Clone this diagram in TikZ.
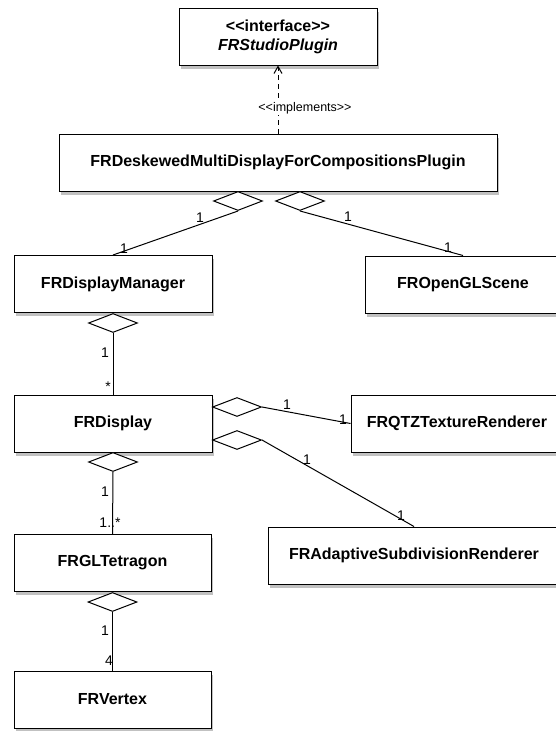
\documentclass[tikz,border=0pt]{standalone}
\usepackage{fontspec}
\setmainfont{Liberation Sans}
\usetikzlibrary{shapes.geometric,shadows,arrows.meta}

\tikzset{
	cls/.style={draw=black, fill=white, line width=1pt, minimum height=57pt, inner sep=0pt,
		font=\fontsize{16}{19}\selectfont\bfseries, align=center,
		drop shadow={shadow xshift=2pt, shadow yshift=-3.5pt, fill=black!60, opacity=0.4}},
	agg/.style={draw=black, fill=white, line width=1pt, shape=diamond, inner sep=0pt,
		minimum width=49pt, minimum height=19pt},
	mult/.style={inner sep=0pt, font=\fontsize{14}{16}\selectfont},
	link/.style={draw=black, line width=1pt}
}

\begin{document}
\begin{tikzpicture}[x=1pt, y=-1pt]
	\useasboundingbox[fill=white] (0,0) rectangle (556,731);
	% classes
	\node[cls, minimum width=198pt] (iface) at (278,36.5) {<{}<interface>{}>\\\textit{FRStudioPlugin}};
	\node[cls, minimum width=438pt] (desk) at (278,162.5) {FRDeskewedMultiDisplayForCompositionsPlugin};
	\node[cls, minimum width=198pt] (dm) at (113,284) {FRDisplayManager};
	\node[cls, minimum width=196pt] (ogl) at (463,284.5) {FROpenGLScene};
	\node[cls, minimum width=198pt] (disp) at (113,423.5) {FRDisplay};
	\node[cls, minimum width=212pt] (qtz) at (457,423.5) {FRQTZTextureRenderer};
	\node[cls, minimum width=292pt] (adapt) at (414,555.5) {FRAdaptiveSubdivisionRenderer};
	\node[cls, minimum width=197pt] (glt) at (112.5,563) {FRGLTetragon};
	\node[cls, minimum width=197pt] (vtx) at (112.5,699.5) {FRVertex};
	% aggregation diamonds
	\node[agg, anchor=north] (aggDeskDm) at (238,191) {};
	\node[agg, anchor=north] (aggDeskOgl) at (300,191) {};
	\node[agg, anchor=north] (aggDm) at (113,313) {};
	\node[agg, anchor=west] (aggDispQtz) at (212,407) {};
	\node[agg, anchor=west] (aggDispAdapt) at (212,440) {};
	\node[agg, anchor=north] (aggDisp) at (113,452) {};
	\node[agg, anchor=north] (aggGlt) at (112.5,592) {};
	% connectors
	\draw[link, dash pattern=on 5pt off 4pt, -{Straight Barb[length=7pt, width=8pt]}] (desk.north) -- (iface.south);
	\node[font=\fontsize{12.5}{14}\selectfont, fill=white, inner sep=1pt] (impl) at (305,108) {<{}<implements>{}>};
	\draw[link] (aggDeskDm.south) -- (dm.north);
	\draw[link] (aggDeskOgl.south) -- (ogl.north);
	\draw[link] (aggDm.south) -- (disp.north);
	\draw[link] (aggDispQtz.east) -- (qtz.west);
	\draw[link] (aggDispAdapt.east) -- (adapt.north);
	\draw[link] (aggDisp.south) -- (glt.north);
	\draw[link] (aggGlt.south) -- (vtx.north);
	% multiplicities
	\node[mult] (mDeskDmA) at (200,218) {1};
	\node[mult] (mDeskDmB) at (124,249) {1};
	\node[mult] (mDeskOglA) at (348,217) {1};
	\node[mult] (mDeskOglB) at (448,248) {1};
	\node[mult] (mDmA) at (105,353) {1};
	\node[mult] (mDmB) at (108,387) {*};
	\node[mult] (mQtzA) at (287,405) {1};
	\node[mult] (mQtzB) at (343,420) {1};
	\node[mult] (mAdaptA) at (307,460) {1};
	\node[mult] (mAdaptB) at (401,516) {1};
	\node[mult] (mDispA) at (105,492) {1};
	\node[mult] (mDispB) at (110,523) {1..*};
	\node[mult] (mGltA) at (105,631) {1};
	\node[mult] (mGltB) at (109,661) {4};
\end{tikzpicture}
\end{document}
